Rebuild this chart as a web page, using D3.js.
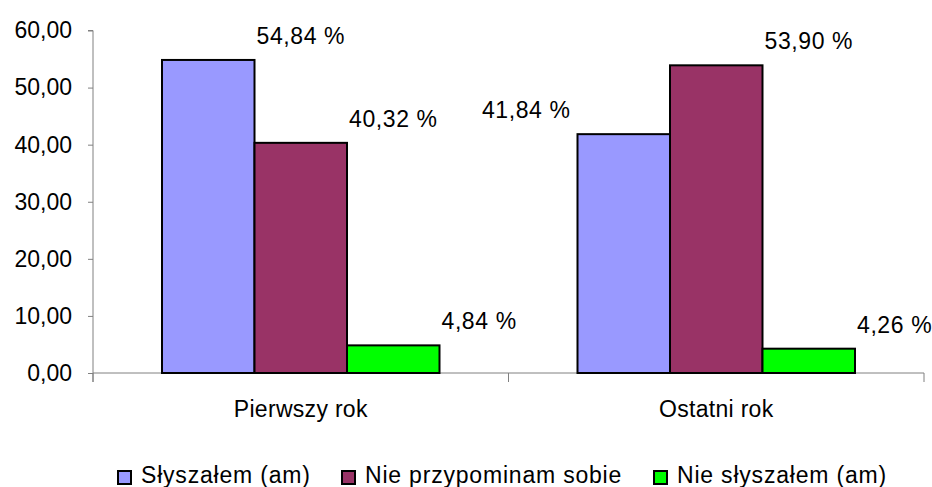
<!DOCTYPE html>
<html>
<head>
<meta charset="utf-8">
<script src="https://cdn.jsdelivr.net/npm/d3@7"></script>
<style>
  body { margin: 0; background: #fff; }
  text { font-family: "Liberation Sans", Arial, sans-serif; fill: #000; }
</style>
</head>
<body>
<div id="chart"></div>
<script>
// chart data
var categories = ["Pierwszy rok", "Ostatni rok"];
var seriesNames = ["Słyszałem (am)", "Nie przypominam sobie", "Nie słyszałem (am)"];
var seriesColors = ["#9999FF", "#993366", "#00FF00"];
var values = [
    [54.84, 40.32, 4.84],   // Pierwszy rok
    [41.84, 53.90, 4.26]    // Ostatni rok
];
var yTicks = [0, 10, 20, 30, 40, 50, 60];
// which side of the bar each value label sits on (Excel placed one on the left)
var labelSide = [["right", "right", "right"], ["left", "right", "right"]];

var svgWidth = 932;
var svgHeight = 487;

var svg = d3.select("#chart")
    .append("svg")
    .attr("width", svgWidth)
    .attr("height", svgHeight);

var plotLeft = 93, plotRight = 924, plotTop = 30.5, plotBottom = 373;

var fmt = function (v) { return v.toFixed(2).replace(".", ","); };

// scales
var x0 = d3.scaleBand()
    .domain(categories)
    .range([plotLeft, plotRight])
    .padding(0);

var x1 = d3.scaleBand()
    .domain(seriesNames)
    .range([0, x0.bandwidth()])
    .paddingInner(0)
    .paddingOuter(0.746);

var y = d3.scaleLinear()
    .domain([0, 60])
    .range([plotBottom, plotTop]);

// y axis
var yAxis = svg.append("g")
    .attr("transform", `translate(${plotLeft},0)`)
    .call(d3.axisLeft(y).tickValues(yTicks).tickFormat(fmt).tickSize(5).tickPadding(16));

yAxis.select(".domain")
    .attr("stroke", "#808080")
    .attr("d", `M-5,${plotTop}H0V${plotBottom + 9}`);
yAxis.selectAll(".tick line").attr("stroke", "#808080");
yAxis.selectAll(".tick text")
    .style("font-size", "23px")
    .attr("fill", "#000");

// x axis
var xAxis = svg.append("g")
    .attr("transform", `translate(0,${plotBottom})`)
    .call(d3.axisBottom(x0).tickSize(0).tickPadding(28));

xAxis.select(".domain")
    .attr("stroke", "#808080")
    .attr("d", `M${plotLeft},0H${plotRight}`);
xAxis.selectAll(".tick text")
    .style("font-size", "23px")
    .style("letter-spacing", "0.3px")
    .attr("fill", "#000");

// category separators
xAxis.selectAll("line.sep")
    .data([plotLeft, x0(categories[1]), plotRight])
    .enter()
    .append("line")
    .attr("class", "sep")
    .attr("x1", d => d)
    .attr("x2", d => d)
    .attr("y1", 0)
    .attr("y2", 9)
    .attr("stroke", "#808080");

// bars
var groups = svg.selectAll("g.cat")
    .data(values)
    .enter()
    .append("g")
    .attr("class", "cat")
    .attr("transform", (d, i) => `translate(${x0(categories[i])},0)`);

groups.selectAll("rect")
    .data(d => d.map((v, j) => ({ v: v, j: j })))
    .enter()
    .append("rect")
    .attr("x", d => x1(seriesNames[d.j]))
    .attr("y", d => y(d.v))
    .attr("width", x1.bandwidth())
    .attr("height", d => plotBottom - y(d.v))
    .attr("fill", d => seriesColors[d.j])
    .attr("stroke", "#000")
    .attr("stroke-width", 2);

// value labels
groups.each(function (row, i) {
    d3.select(this).selectAll("text.val")
        .data(row.map((v, j) => ({ v: v, j: j })))
        .enter()
        .append("text")
        .attr("class", "val")
        .attr("x", d => labelSide[i][d.j] == "left"
            ? x1(seriesNames[d.j]) - 7
            : x1(seriesNames[d.j]) + x1.bandwidth() + 2)
        .attr("y", d => y(d.v) - 16)
        .attr("text-anchor", d => labelSide[i][d.j] == "left" ? "end" : "start")
        .style("font-size", "23px")
        .style("letter-spacing", "0.6px")
        .text(d => fmt(d.v) + " %");
});

// legend
var legendX = [117, 341, 653];
var legend = svg.selectAll("g.legend")
    .data(seriesNames)
    .enter()
    .append("g")
    .attr("class", "legend")
    .attr("transform", (d, i) => `translate(${legendX[i]},470)`);

legend.append("rect")
    .attr("x", 1)
    .attr("y", 1)
    .attr("width", 13)
    .attr("height", 13)
    .attr("fill", (d, i) => seriesColors[i])
    .attr("stroke", "#000")
    .attr("stroke-width", 2);

legend.append("text")
    .attr("x", 24)
    .attr("y", 13)
    .style("font-size", "23px")
    .style("letter-spacing", "0.8px")
    .text(d => d);
</script>
</body>
</html>
